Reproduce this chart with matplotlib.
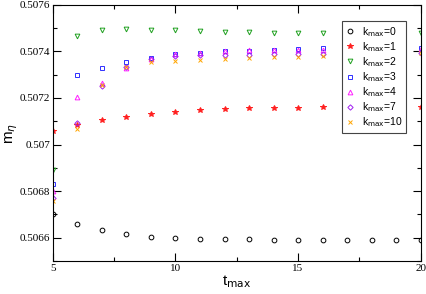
import matplotlib

matplotlib.use("Agg")
import matplotlib.pyplot as plt
from matplotlib.ticker import MultipleLocator

t_max = list(range(5, 21))

m_k0 = [0.50670, 0.506658, 0.506632, 0.506617, 0.506605, 0.506600, 0.506595, 0.506594,
        0.506593, 0.506592, 0.506592, 0.506592, 0.506591, 0.506591, 0.506591, 0.506590]
m_k1 = [0.507059, 0.507082, 0.507105, 0.507119, 0.507131, 0.507140, 0.507148, 0.507152,
        0.507155, 0.507156, 0.507157, 0.507159, 0.507159, 0.507160, 0.507160, 0.507160]
m_k2 = [0.506889, 0.507467, 0.507492, 0.507495, 0.507493, 0.507490, 0.507486, 0.507482,
        0.507482, 0.507479, 0.507479, 0.507477, 0.507478, 0.507479, 0.507479, 0.507480]
m_k3 = [0.506829, 0.507298, 0.507328, 0.507353, 0.507373, 0.507388, 0.507392, 0.507400,
        0.507402, 0.507406, 0.507409, 0.507413, 0.507414, 0.507415, 0.507415, 0.507416]
m_k4 = [0.506802, 0.507205, 0.507263, 0.507330, 0.507369, 0.507389, 0.507393, 0.507402,
        0.507404, 0.507405, 0.507406, 0.507407, 0.507408, 0.507409, 0.507409, 0.507410]
m_k7 = [0.506771, 0.507093, 0.507252, 0.507334, 0.507366, 0.507382, 0.507383, 0.507385,
        0.507386, 0.507388, 0.507389, 0.507390, 0.507391, 0.507391, 0.507392, 0.507392]
m_k10 = [0.506759, 0.507065, 0.507256, 0.507334, 0.507355, 0.507359, 0.507362, 0.507369,
         0.507370, 0.507377, 0.507377, 0.507382, 0.507385, 0.507388, 0.507390, 0.507392]

series = [
    ("0", m_k0, "o", "black", "none"),
    ("1", m_k1, "*", "#ff2020", "#ff2020"),
    ("2", m_k2, "v", "#20a020", "none"),
    ("3", m_k3, "s", "#3030ff", "none"),
    ("4", m_k4, "^", "#ff20ff", "none"),
    ("7", m_k7, "D", "#a020f0", "none"),
    ("10", m_k10, "x", "#ffa500", "none"),
]

fig = plt.figure(figsize=(4.27, 2.94), dpi=100)
ax = fig.add_axes([0.124, 0.112, 0.861, 0.872])

for k, vals, mk, col, fc in series:
    size = {"D": 2.7, "*": 4.0, "x": 3.0}.get(mk, 3.4)
    ax.plot(t_max, vals, linestyle="none", marker=mk, markersize=size,
            markeredgecolor=col, markerfacecolor=fc, markeredgewidth=0.7,
            label=r"k$_{\mathrm{max}}$=" + k)

ax.set_xlim(5, 20)
ax.set_ylim(0.5065, 0.5076)
ax.xaxis.set_major_locator(MultipleLocator(5))
ax.xaxis.set_minor_locator(MultipleLocator(2.5))
ax.yaxis.set_minor_locator(MultipleLocator(0.0001))
ax.set_yticks([0.5066, 0.5068, 0.507, 0.5072, 0.5074, 0.5076])
ax.set_yticklabels(["0.5066", "0.5068", "0.507", "0.5072", "0.5074", "0.5076"])
ax.tick_params(which="both", direction="in", top=True, right=True, pad=2)
ax.tick_params(which="major", length=6, width=0.8)
ax.tick_params(which="minor", length=3, width=0.8)
for lab in ax.get_xticklabels() + ax.get_yticklabels():
    lab.set_fontfamily("Liberation Serif")
    lab.set_fontsize(8)

ax.set_xlabel(r"t$_{\mathrm{max}}$", fontsize=11, family="Liberation Sans", labelpad=0)
ax.set_ylabel(r"m$_{\eta}$", fontsize=11, family="Liberation Sans", labelpad=0)

leg = ax.legend(loc="upper left", bbox_to_anchor=(0.786, 0.935), fancybox=False,
                framealpha=1, edgecolor="#444444", prop={"family": "Liberation Sans", "size": 7.5},
                handlelength=0.8, handletextpad=0.8, labelspacing=0.12, borderpad=0.35,
                borderaxespad=0)
leg.get_frame().set_linewidth(0.8)

fig.savefig("out.png", dpi=100)
